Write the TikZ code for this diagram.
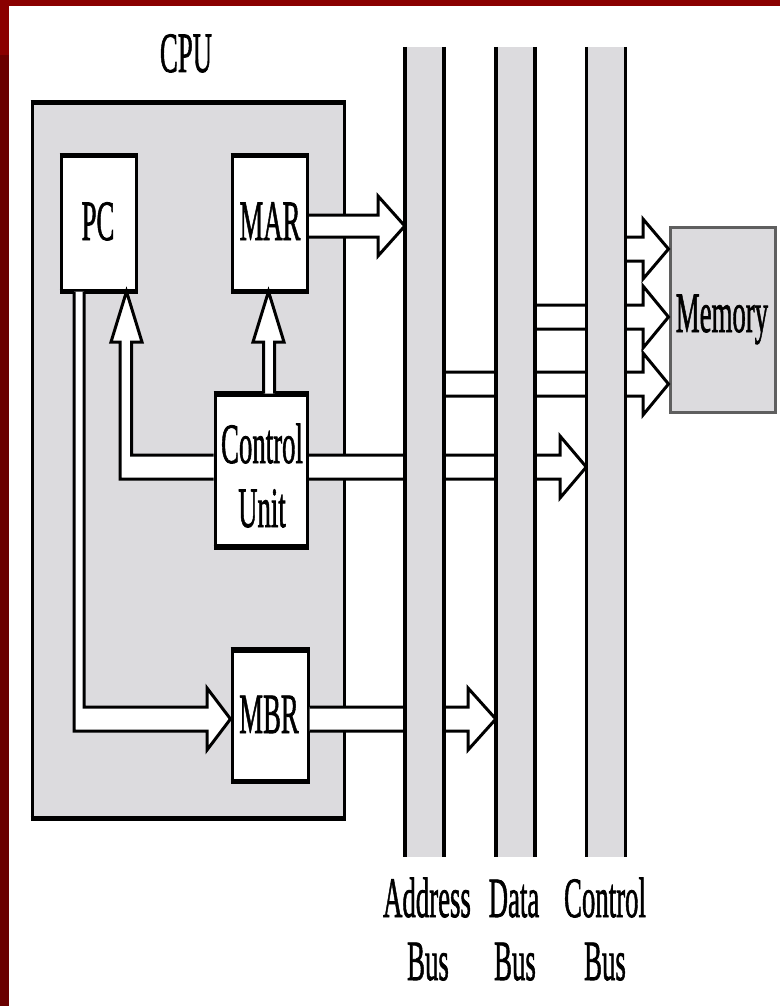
\documentclass[tikz,border=0pt]{standalone}
\usepackage{fontspec}
\setmainfont{Liberation Serif}
\newfontfamily\lblfont[FakeBold=1.5]{Liberation Serif}
\usepackage{graphicx}
\definecolor{framered}{RGB}{138,0,0}
\definecolor{framedark}{RGB}{106,0,0}
\definecolor{busgray}{RGB}{220,219,222}
\definecolor{memedge}{RGB}{95,95,95}
\newcommand\sq[1]{\scalebox{0.47}[1]{#1}}
\tikzset{
  lbl/.style={inner sep=0pt, anchor=base, font=\lblfont\fontsize{57}{64}\selectfont},
  regbox/.style={draw=black, fill=white, line width=3pt, inner sep=0pt},
  busbar/.style={fill=busgray, inner sep=0pt, minimum width=39pt, minimum height=810pt},
  busline/.style={line width=3.5pt, draw=black},
  blk/.style={fill=white, draw=black, line width=3pt, line join=miter, miter limit=10},
}
\begin{document}
\begin{tikzpicture}[x=1pt,y=-1pt]
\useasboundingbox (0,0) rectangle (780,1006);
\fill[white] (0,0) rectangle (780,1006);
% frame
\fill[framered] (0,0) rectangle (780,6);
\fill[framedark] (0,55) rectangle (9,1006);
\fill[framered] (0,0) rectangle (9,55);
% CPU
\node[draw=black, fill=busgray, line width=3pt, inner sep=0pt, minimum width=312pt, minimum height=713pt] (cpu) at (188,460.5) {};
\draw[line width=5pt] (cpu.north west) -- (cpu.north east);
\draw[line width=5pt] (cpu.south west) -- (cpu.south east);
\node[lbl] (cpulbl) at (186,72) {\sq{CPU}};
% registers
\node[regbox, minimum width=75pt, minimum height=133.5pt] (pc) at (98.5,223.25) {};
\node[regbox, minimum width=75.5pt, minimum height=133.5pt] (mar) at (269.75,223.25) {};
\node[regbox, minimum width=92.5pt, minimum height=150.5pt] (cu) at (261.25,470.25) {};
\node[regbox, minimum width=76pt, minimum height=129pt] (mbr) at (270,715.5) {};
\foreach \b in {pc,mar,cu,mbr}{
  \draw[line width=5pt] (\b.north west) -- (\b.north east);
  \draw[line width=5pt] (\b.south west) -- (\b.south east);
}
% bus bars (positions only, drawn later on top)
\path node[busbar] (abus) at (424.5,452) {}
      node[busbar] (dbus) at (515.5,452) {}
      node[busbar] (cbus) at (606,452) {};
% memory
\node[draw=memedge, fill=busgray, line width=3pt, inner sep=0pt, minimum width=105pt, minimum height=185pt] (mem) at (722.5,319.5) {};
% block arrows
\filldraw[blk] (mar.east |- 0,215) -- (378,215) -- (378,196) -- (abus.west |- 0,226) -- (378,256) -- (378,237) -- (mar.east |- 0,237);
\filldraw[blk] (cu.east |- 0,455) -- (560,455) -- (560,436) -- (cbus.west |- 0,467) -- (560,498) -- (560,479) -- (cu.east |- 0,479);
\filldraw[blk] (mbr.east |- 0,707) -- (468,707) -- (468,688) -- (dbus.west |- 0,719) -- (468,750) -- (468,731) -- (mbr.east |- 0,731);
\filldraw[blk] (cu.west |- 0,455) -- (131.5,455) -- (131.5,342) -- (142,342) -- (pc.south -| 126.5,0) -- (111,342) -- (120,342) -- (120,479) -- (cu.west |- 0,479);
\filldraw[blk] (cu.north -| 263.5,0) -- (263.5,342) -- (253,342) -- (mar.south -| 268.5,0) -- (284,342) -- (274.5,342) -- (cu.north -| 274.5,0);
\filldraw[blk] (pc.south -| 74,0) -- (74,731) -- (207,731) -- (207,750) -- (mbr.west |- 0,719) -- (207,688) -- (207,707) -- (84,707) -- (pc.south -| 84,0);
\filldraw[blk] (cbus.center |- 0,237) -- (643,237) -- (643,219) -- (mem.west |- 0,249) -- (643,279) -- (643,261) -- (cbus.center |- 0,261);
\filldraw[blk] (dbus.center |- 0,305) -- (643,305) -- (643,286) -- (mem.west |- 0,317) -- (643,348) -- (643,329) -- (dbus.center |- 0,329);
\filldraw[blk] (abus.center |- 0,372) -- (643,372) -- (643,353) -- (mem.west |- 0,384) -- (643,415) -- (643,396) -- (abus.center |- 0,396);
% buses on top
\foreach \b in {abus,dbus,cbus}{
  \fill[busgray] (\b.north west) rectangle (\b.south east);
  \draw[busline] (\b.north west) -- (\b.south west);
  \draw[busline] (\b.north east) -- (\b.south east);
}
% labels
\node[lbl] (pclbl) at (98,240) {\sq{PC}};
\node[lbl] (marlbl) at (270,240) {\sq{MAR}};
\node[lbl] (culbl1) at (262,463) {\sq{Control}};
\node[lbl] (culbl2) at (262,527) {\sq{Unit}};
\node[lbl] (mbrlbl) at (269,733) {\sq{MBR}};
\node[lbl] (memlbl) at (722,332) {\sq{Memory}};
\node[lbl] (al1) at (427,917) {\sq{Address}};
\node[lbl] (al2) at (428,980) {\sq{Bus}};
\node[lbl] (dl1) at (514,917) {\sq{Data}};
\node[lbl] (dl2) at (515,980) {\sq{Bus}};
\node[lbl] (cl1) at (605,917) {\sq{Control}};
\node[lbl] (cl2) at (605,980) {\sq{Bus}};
\end{tikzpicture}
\end{document}
